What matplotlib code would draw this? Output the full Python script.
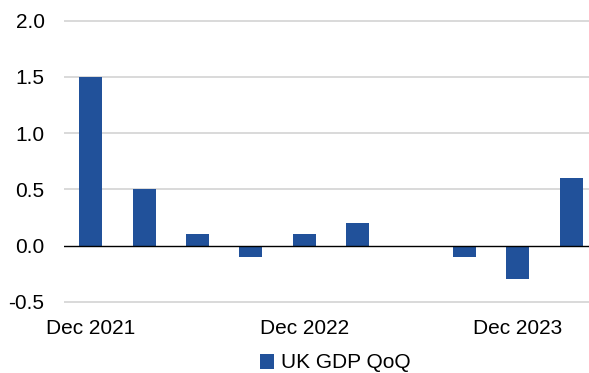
import matplotlib
matplotlib.use('Agg')
import matplotlib.pyplot as plt
from matplotlib.patches import Patch

plt.rcParams['font.family'] = ['Liberation Sans', 'DejaVu Sans']

# Quarterly UK GDP growth, Dec 2021 - Mar 2024
quarters = ['Dec 2021', 'Mar 2022', 'Jun 2022', 'Sep 2022', 'Dec 2022',
            'Mar 2023', 'Jun 2023', 'Sep 2023', 'Dec 2023', 'Mar 2024']
gdp_qoq = [1.5, 0.5, 0.1, -0.1, 0.1, 0.2, 0.0, -0.1, -0.3, 0.6]
tick_idx = [0, 4, 8]
y_ticks = [-0.5, 0.0, 0.5, 1.0, 1.5, 2.0]

bar_color = '#21519A'
W, H = 589, 373

fig = plt.figure(figsize=(W / 100, H / 100), dpi=100)
# axes spans past the right edge of the figure (cut off like the original)
left, right = 64, 598
top, bottom = 18.25, 304.25
ax = fig.add_axes([left / W, (H - bottom) / H, (right - left) / W, (bottom - top) / H])

x = list(range(len(quarters)))
ax.bar(x, gdp_qoq, width=0.43, color=bar_color, zorder=3)

for y in y_ticks:
    if y == 0:
        ax.axhline(y, color='black', linewidth=1.0, zorder=4)
    else:
        ax.axhline(y, color='#d9d9d9', linewidth=1.4, zorder=1)

ax.set_xlim(-0.5, len(quarters) - 0.5)
ax.set_ylim(-0.52, 2.02)
ax.set_yticks(y_ticks)
ax.set_yticklabels([f'{v:.1f}' for v in y_ticks])
ax.set_xticks(tick_idx)
ax.set_xticklabels([quarters[i] for i in tick_idx])

for s in ax.spines.values():
    s.set_visible(False)
ax.tick_params(axis='both', length=0, labelsize=15, colors='black')
ax.tick_params(axis='y', pad=14)
ax.tick_params(axis='x', pad=10.5)

handle = Patch(facecolor=bar_color, edgecolor='none')
fig.legend([handle], ['UK GDP QoQ'], loc='center', bbox_to_anchor=(335 / W, (H - 363) / H),
           frameon=False, fontsize=15, handlelength=0.7, handleheight=0.7, handletextpad=0.3)

plt.savefig('out.png', dpi=100)
